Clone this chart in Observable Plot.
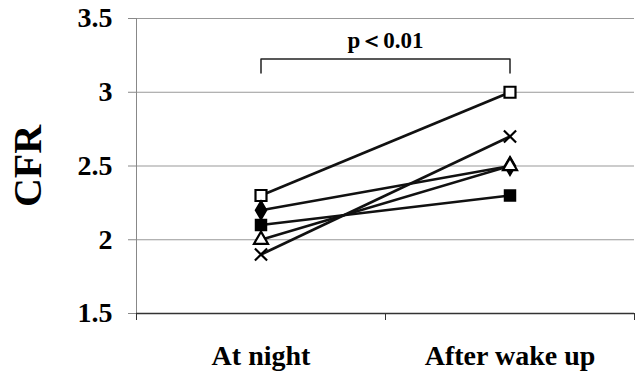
<!DOCTYPE html>
<html><head><meta charset="utf-8">
<script src="https://cdn.jsdelivr.net/npm/d3@7"></script>
<script src="https://cdn.jsdelivr.net/npm/@observablehq/plot@0.6"></script>
<style>body{margin:0;background:#fff}</style>
</head><body><div id="chart"></div>
<script>
const categories = ["At night", "After wake up"];
const categoryPos = [0.5, 1.5];
const atNight = [2.3, 2.2, 2.1, 2.0, 1.9];
const afterWake = [3.0, 2.5, 2.3, 2.5, 2.7];
const markerSymbols = ["square", "diamond", "square", "triangle", "times"];
const markerFills = ["white", "black", "black", "white", "none"];
const markerRadius = [6.2, 5.4, 5.8, 5.2, 5.6];
const yTicks = [1.5, 2, 2.5, 3, 3.5];
const bracketX = [0.5, 0.5, 1.5, 1.5];
const bracketY = [3.13, 3.225, 3.225, 3.13];
const pText = "p＜0.01";
const pPos = {x: 1, y: 3.35};

const idx = atNight.map((_, i) => i);
const points = [];
idx.forEach(i => {
  points.push({x: categoryPos[0], y: atNight[i], i});
  points.push({x: categoryPos[1], y: afterWake[i], i});
});
const bracket = bracketX.map((x, k) => ({x, y: bracketY[k]}));

const dotMarks = idx.map(i => Plot.dot(points.filter(p => p.i === i), {
  x: "x", y: "y", symbol: markerSymbols[i], r: markerRadius[i],
  fill: markerFills[i], stroke: "black", strokeWidth: 2.2
}));

const chart = Plot.plot({
  width: 640, height: 375,
  marginLeft: 136, marginRight: 6, marginTop: 18, marginBottom: 62,
  style: {fontFamily: "'Liberation Serif', 'Times New Roman', serif", fontWeight: "bold", color: "#000", background: "#fff"},
  x: {domain: [0, 2], range: [136, 634]},
  y: {domain: [1.5, 3.5]},
  marks: [
    Plot.ruleY(yTicks.slice(1), {stroke: "#999", strokeWidth: 1}),
    Plot.ruleX([0], {y1: yTicks[0], y2: yTicks[yTicks.length - 1], stroke: "#888", strokeWidth: 1}),
    Plot.axisY({ticks: yTicks, tickFormat: d => String(d), tickSize: 8, tickPadding: 16, fontSize: 28, stroke: "#888", fill: "#000", label: null}),
    Plot.text(["CFR"], {frameAnchor: "left", textAnchor: "middle", rotate: -90, dx: -108, fontSize: 40, fontWeight: "bold", fill: "#000"}),
    Plot.ruleY([yTicks[0]], {stroke: "#333", strokeWidth: 1.5}),
    Plot.axisX({ticks: [0, 1, 2], tickFormat: () => "", tickSize: 7, stroke: "#333", label: null}),
    Plot.axisX({ticks: categoryPos, tickFormat: (d, k) => categories[k], tickSize: 0, tickPadding: 32, fontSize: 28, fill: "#000", label: null}),
    Plot.line(bracket, {x: "x", y: "y", stroke: "#222", strokeWidth: 1.5}),
    Plot.text([pText], {x: pPos.x, y: pPos.y, fontSize: 23, fontWeight: "bold", fill: "#000"}),
    Plot.link(idx, {x1: () => categoryPos[0], x2: () => categoryPos[1], y1: i => atNight[i], y2: i => afterWake[i], stroke: "#111", strokeWidth: 2.6}),
    ...dotMarks
  ]
});
document.getElementById("chart").append(chart);
</script></body></html>
